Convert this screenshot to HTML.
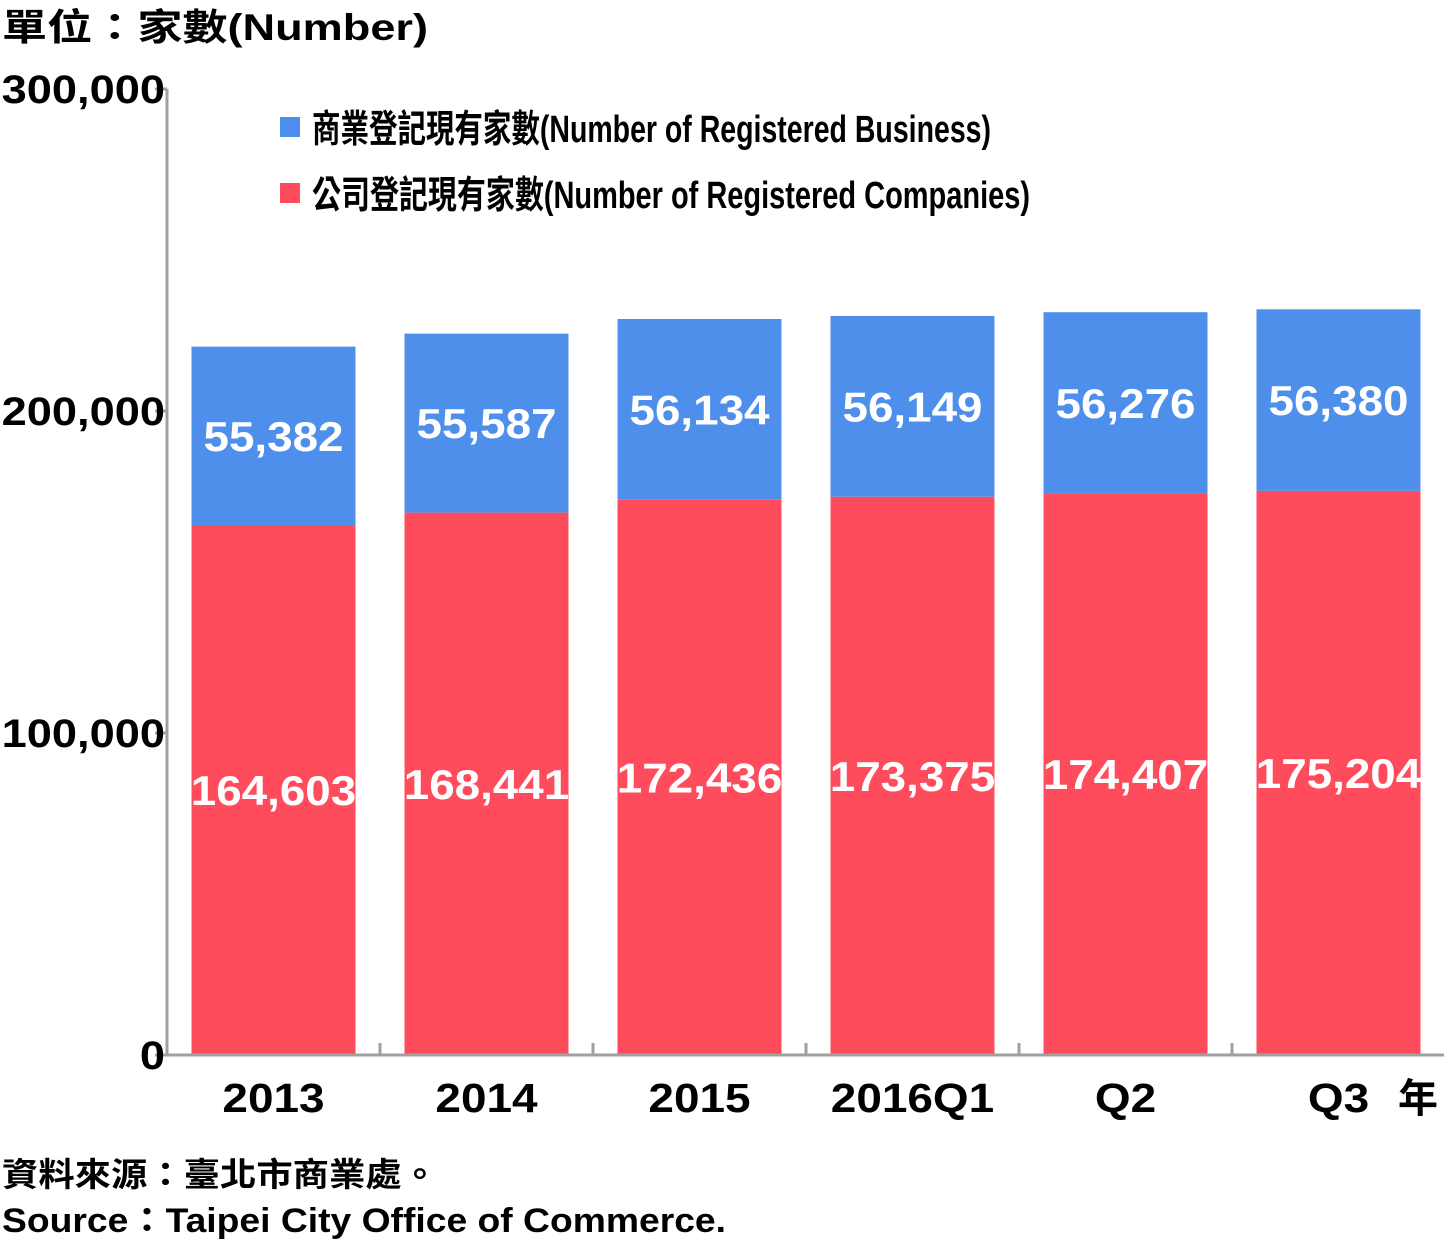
<!DOCTYPE html>
<html><head><meta charset="utf-8"><style>
body{margin:0;background:#fff;}
svg text{font-family:"Liberation Sans","Noto Sans CJK TC",sans-serif;font-weight:bold;}
</style></head><body>
<svg id="chart" width="1444" height="1246" xmlns="http://www.w3.org/2000/svg">
<text class="s" data-f="428" x="2" y="40" font-size="37" fill="#000">單位：家數(Number)</text>
<g id="yaxis"></g>
<g id="bars"></g>
<g id="xaxis"></g>
<g>
<rect x="280" y="117" width="20" height="20" fill="#4F8FEC"/>
<text class="s" data-f="991" x="312" y="142" font-size="38" fill="#000">商業登記現有家數(Number of Registered Business)</text>
<rect x="280" y="183" width="20" height="20" fill="#FF4C5C"/>
<text class="s" data-f="1030" x="312" y="208" font-size="38" fill="#000">公司登記現有家數(Number of Registered Companies)</text>
</g>
<text x="1398" y="1112" font-size="40" fill="#000">年</text>
<text class="s" data-f="438" x="2" y="1186" font-size="33" fill="#000">資料來源：臺北市商業處。</text>
<text class="s" data-f="726" x="2" y="1232" font-size="34" fill="#000">Source：Taipei City Office of Commerce.</text>
</svg>
<script>
const categories=["2013","2014","2015","2016Q1","Q2","Q3"];
const companies=[164603,168441,172436,173375,174407,175204];
const business=[55382,55587,56134,56149,56276,56380];
const yTicks=[0,100000,200000,300000];
const NS="http://www.w3.org/2000/svg";
const x0=167,xEnd=1444,band=213,barW=164,yBase=1055,pxPer=322/100000;
function y(v){return yBase-v*pxPer;}
function bx(i){return x0+band*i+band/2;}
function mk(tag,attrs,parent){const e=document.createElementNS(NS,tag);for(const k in attrs)e.setAttribute(k,attrs[k]);parent.appendChild(e);return e;}
function stretch(t,f){const w=t.getComputedTextLength();t.setAttribute('textLength',w*f);t.setAttribute('lengthAdjust','spacingAndGlyphs');}
const fmt=v=>v.toLocaleString('en-US');
const ya=document.getElementById('yaxis'),xa=document.getElementById('xaxis'),bg=document.getElementById('bars');
let l=mk('line',{x1:x0,y1:y(300000),x2:x0,y2:yBase,stroke:'#a0a0a0','stroke-width':3},ya);


yTicks.forEach(t=>{
 let tk=mk('line',{x1:x0-12,x2:x0,y1:y(t),y2:y(t),stroke:'#a0a0a0','stroke-width':3},ya);
 
 
 let tx=mk('text',{x:x0-2,y:y(t)+14,'font-size':40,'text-anchor':'end',fill:'#000'},ya);
 tx.textContent=fmt(t);
 
 
 stretch(tx,1.13);
});
categories.forEach((c,i)=>{
 const cx=bx(i),tot=companies[i]+business[i];
 let r=mk('rect',{x:cx-barW/2,y:y(companies[i]),width:barW,height:yBase-y(companies[i]),fill:'#FF4C5C'},bg);
 
 
 let b=mk('rect',{x:cx-barW/2,y:y(tot),width:barW,height:y(companies[i])-y(tot),fill:'#4F8FEC'},bg);
 
 
 let t1=mk('text',{x:cx,y:(y(companies[i])+yBase)/2+15,'font-size':42,'text-anchor':'middle',fill:'#fff'},bg);
 t1.textContent=fmt(companies[i]);
 
 
 stretch(t1,1.09);
 let t2=mk('text',{x:cx,y:(y(tot)+y(companies[i]))/2+15,'font-size':42,'text-anchor':'middle',fill:'#fff'},bg);
 t2.textContent=fmt(business[i]);
 
 
 stretch(t2,1.09);
 let xl=mk('text',{x:cx,y:1112,'font-size':41,'text-anchor':'middle',fill:'#000'},xa);
 xl.textContent=c;
 
 
 stretch(xl,1.12);
 if(i>0){let tk=mk('line',{x1:x0+band*i,x2:x0+band*i,y1:yBase,y2:yBase-12,stroke:'#a0a0a0','stroke-width':3},xa);
 
 }
});
let xl=mk('line',{x1:x0,y1:yBase,x2:xEnd,y2:yBase,stroke:'#a0a0a0','stroke-width':3},xa);


document.querySelectorAll('text.s').forEach(t=>{const target=+t.getAttribute('data-f')-(+t.getAttribute('x'));t.setAttribute('textLength',target);t.setAttribute('lengthAdjust','spacingAndGlyphs');});
</script>
</body></html>
